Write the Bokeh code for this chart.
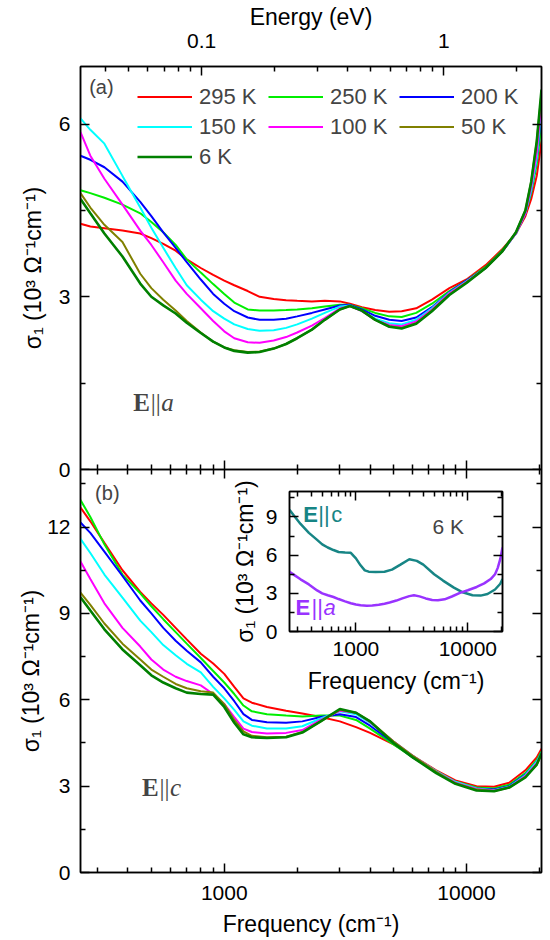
from bokeh.plotting import figure
from bokeh.models import (Range1d, LogScale, LogAxis, LinearAxis, FixedTicker,
                          Legend, LegendItem, Label)
from bokeh.layouts import column
from bokeh.embed import file_html
from bokeh.resources import INLINE

SANS = "Liberation Sans"
SERIF = "Liberation Serif"

# ---------------- data ----------------
temps = ["295 K", "250 K", "200 K", "150 K", "100 K", "50 K", "6 K"]
colors = ["#ff0000", "#00ee00", "#0000ff", "#00ffff", "#ff00ff", "#808000", "#008000"]

freq_a = [255, 280, 320, 380, 450, 500, 560, 630, 700, 800, 900, 1000, 1100, 1250, 1400,
          1600, 1800, 2000, 2300, 2600, 3000, 3300, 3700, 4200, 4800, 5400, 6200, 7200,
          8500, 10000, 12000, 14000, 16000, 17500, 18500, 19500, 20400]
a_295K = [4.27, 4.22, 4.19, 4.15, 4.10, 4.02, 3.92, 3.80, 3.65, 3.50, 3.38, 3.28, 3.20, 3.10, 3.00,
          2.96, 2.94, 2.93, 2.92, 2.93, 2.92, 2.88, 2.82, 2.77, 2.74, 2.75, 2.80, 2.95,
          3.15, 3.30, 3.55, 3.82, 4.10, 4.40, 4.70, 5.10, 5.70]
a_250K = [4.85, 4.80, 4.72, 4.60, 4.45, 4.30, 4.12, 3.90, 3.65, 3.42, 3.22, 3.05, 2.90, 2.78, 2.76,
          2.76, 2.77, 2.78, 2.80, 2.83, 2.86, 2.86, 2.80, 2.72, 2.66, 2.65, 2.72, 2.88,
          3.10, 3.28, 3.52, 3.80, 4.10, 4.45, 4.80, 5.30, 6.00]
a_200K = [5.45, 5.38, 5.25, 5.00, 4.65, 4.40, 4.12, 3.85, 3.60, 3.30, 3.05, 2.88, 2.75, 2.64, 2.60,
          2.60, 2.62, 2.66, 2.72, 2.78, 2.85, 2.86, 2.78, 2.67, 2.60, 2.58, 2.64, 2.82,
          3.08, 3.28, 3.50, 3.78, 4.10, 4.45, 4.85, 5.40, 6.20]
a_150K = [6.10, 5.90, 5.66, 5.10, 4.55, 4.20, 3.85, 3.50, 3.20, 2.95, 2.75, 2.62, 2.52, 2.44, 2.41,
          2.42, 2.46, 2.52, 2.62, 2.72, 2.83, 2.85, 2.75, 2.62, 2.54, 2.52, 2.60, 2.80,
          3.07, 3.27, 3.50, 3.78, 4.10, 4.45, 4.85, 5.40, 6.30]
a_100K = [5.86, 5.45, 5.05, 4.60, 4.15, 3.90, 3.60, 3.28, 3.05, 2.80, 2.58, 2.40, 2.28, 2.21, 2.20,
          2.24, 2.30, 2.38, 2.50, 2.63, 2.80, 2.84, 2.75, 2.60, 2.51, 2.49, 2.57, 2.78,
          3.06, 3.26, 3.50, 3.78, 4.10, 4.45, 4.90, 5.50, 6.40]
a_50K = [4.80, 4.55, 4.25, 3.95, 3.40, 3.15, 2.95, 2.76, 2.58, 2.38, 2.22, 2.12, 2.07, 2.04, 2.05,
         2.10, 2.18, 2.28, 2.43, 2.60, 2.78, 2.84, 2.76, 2.60, 2.49, 2.46, 2.54, 2.76,
         3.04, 3.25, 3.50, 3.78, 4.12, 4.50, 5.00, 5.70, 6.55]
a_6K = [4.70, 4.45, 4.10, 3.70, 3.23, 3.00, 2.85, 2.71, 2.55, 2.37, 2.22, 2.12, 2.06, 2.03, 2.04,
        2.10, 2.18, 2.28, 2.43, 2.60, 2.78, 2.84, 2.76, 2.60, 2.48, 2.45, 2.53, 2.75,
        3.03, 3.24, 3.50, 3.78, 4.12, 4.50, 5.00, 5.70, 6.60]

freq_b = [255, 280, 320, 380, 450, 500, 560, 630, 700, 800, 900, 1000, 1100, 1200, 1300, 1500,
          1800, 2100, 2500, 3000, 3500, 4000, 5000, 6000, 7500, 9000, 11000, 13000, 15000,
          17500, 19500, 20400]
b_295K = [12.68, 12.20, 11.45, 10.50, 9.75, 9.35, 8.95, 8.50, 8.10, 7.60, 7.26, 6.90, 6.45, 6.05, 5.90, 5.75,
          5.62, 5.52, 5.40, 5.25, 5.05, 4.85, 4.45, 4.05, 3.55, 3.20, 3.00, 2.98, 3.12,
          3.55, 4.00, 4.30]
b_250K = [12.94, 12.35, 11.40, 10.35, 9.70, 9.25, 8.80, 8.35, 7.95, 7.45, 7.00, 6.60, 6.20, 5.80, 5.60, 5.50,
          5.45, 5.42, 5.45, 5.45, 5.30, 5.00, 4.45, 4.00, 3.50, 3.15, 2.95, 2.92, 3.05,
          3.45, 3.90, 4.20]
b_200K = [12.16, 11.80, 11.15, 10.30, 9.45, 9.00, 8.50, 8.05, 7.70, 7.30, 6.80, 6.40, 5.95, 5.50, 5.30, 5.22,
          5.20, 5.25, 5.40, 5.50, 5.40, 5.10, 4.50, 4.00, 3.50, 3.13, 2.92, 2.88, 3.00,
          3.40, 3.85, 4.15]
b_150K = [11.59, 11.10, 10.35, 9.55, 8.75, 8.35, 7.90, 7.55, 7.25, 6.95, 6.45, 6.05, 5.65, 5.25, 5.10, 5.00,
          5.00, 5.08, 5.35, 5.60, 5.50, 5.20, 4.55, 4.05, 3.52, 3.15, 2.92, 2.86, 2.98,
          3.38, 3.85, 4.15]
b_100K = [10.80, 10.20, 9.35, 8.50, 7.85, 7.40, 7.05, 6.80, 6.65, 6.50, 6.20, 5.85, 5.40, 5.00, 4.88, 4.83,
          4.85, 4.95, 5.30, 5.62, 5.55, 5.22, 4.55, 4.05, 3.50, 3.12, 2.90, 2.85, 2.96,
          3.35, 3.80, 4.12]
b_50K = [9.72, 9.30, 8.65, 7.95, 7.40, 7.05, 6.80, 6.55, 6.40, 6.30, 6.25, 5.85, 5.30, 4.90, 4.75, 4.70,
         4.72, 4.88, 5.25, 5.65, 5.55, 5.25, 4.55, 4.05, 3.50, 3.10, 2.88, 2.83, 2.95,
         3.32, 3.75, 4.10]
b_6K = [9.56, 9.10, 8.45, 7.75, 7.20, 6.85, 6.60, 6.40, 6.25, 6.20, 6.18, 5.75, 5.20, 4.80, 4.70, 4.67,
        4.70, 4.86, 5.25, 5.68, 5.55, 5.25, 4.50, 4.00, 3.45, 3.08, 2.85, 2.82, 2.95,
        3.30, 3.75, 4.13]

series_a = [a_295K, a_250K, a_200K, a_150K, a_100K, a_50K, a_6K]
series_b = [b_295K, b_250K, b_200K, b_150K, b_100K, b_50K, b_6K]

# ticks and ranges
x_lo, x_hi = 255, 20400
cm_per_eV = 8065.54
x_major = [1000, 10000]
x_minor = [300, 400, 500, 600, 700, 800, 900, 2000, 3000, 4000, 5000, 6000, 7000, 8000, 9000, 20000]
ev_major = [0.1, 1]
ev_minor = [0.04, 0.05, 0.06, 0.07, 0.08, 0.09, 0.2, 0.3, 0.4, 0.5, 0.6, 0.7, 0.8, 0.9, 2]
ya_major, ya_minor = [0, 3, 6], [1.5, 4.5]
yb_major, yb_minor = [0, 3, 6, 9, 12], [1.5, 4.5, 7.5, 10.5, 13.5]
yi_major, yi_minor = [0, 3, 6, 9], [1.5, 4.5, 7.5, 10.5]

Y_LABEL = "σ₁ (10³ Ω⁻¹cm⁻¹)"
X_LABEL = "Frequency (cm⁻¹)"


def add_axis(p, kind, place, ticks, minor, labels=True, title=None, std=10, tstd=5,
             overrides=None, **kw):
    ax = kind(ticker=FixedTicker(ticks=ticks, minor_ticks=minor), **kw)
    ax.major_tick_in = 9
    ax.major_tick_out = 0
    ax.minor_tick_in = 5
    ax.minor_tick_out = 0
    ax.axis_line_width = 1.5
    ax.major_tick_line_width = 1.5
    ax.minor_tick_line_width = 1.5
    ax.axis_line_color = "black"
    ax.major_tick_line_color = "black"
    ax.minor_tick_line_color = "black"
    ax.major_label_text_font = SANS
    ax.major_label_text_color = "black"
    if labels:
        ax.major_label_text_font_size = "21px"
        ax.major_label_standoff = std
        if overrides:
            ax.major_label_overrides = overrides
    else:
        ax.major_label_text_font_size = "1px"
        ax.major_label_text_alpha = 0
        ax.major_label_standoff = 0
    if title:
        ax.axis_label = title
        ax.axis_label_text_font = SANS
        ax.axis_label_text_font_size = "23px"
        ax.axis_label_text_font_style = "normal"
        ax.axis_label_text_color = "black"
        ax.axis_label_standoff = tstd
    p.add_layout(ax, place)
    return ax


def base_fig(width, height, y_hi, bl, br, bt, bb, **kw):
    p = figure(width=width, height=height, x_axis_type="log",
               x_range=Range1d(x_lo, x_hi), y_range=Range1d(0, y_hi),
               x_axis_location=None, y_axis_location=None,
               min_border_left=bl, min_border_right=br, min_border_top=bt, min_border_bottom=bb,
               output_backend="svg", toolbar_location=None, **kw)
    p.grid.visible = False
    p.outline_line_color = "black"
    p.outline_line_width = 1.5
    p.background_fill_color = "white"
    return p


xover = {1000: "1000", 10000: "10000"}

# ---------------- panel (a) ----------------
pa = base_fig(590, 481, 7, 120, 9, 66, 12)
pa.extra_x_ranges = {"eV": Range1d(x_lo / cm_per_eV, x_hi / cm_per_eV)}
pa.extra_x_scales = {"eV": LogScale()}
add_axis(pa, LinearAxis, "left", ya_major, ya_minor, title=Y_LABEL, std=10, tstd=10)
add_axis(pa, LinearAxis, "right", ya_major, ya_minor, labels=False)
add_axis(pa, LogAxis, "above", ev_major, ev_minor, title="Energy (eV)", std=19, tstd=1,
         overrides={0.1: "0.1", 1: "1"}, x_range_name="eV")
add_axis(pa, LogAxis, "below", x_major, x_minor, labels=False)

items = []
for name, col, ys in zip(temps, colors, series_a):
    r = pa.line(freq_a, ys, line_color=col, line_width=2.6 if name == "6 K" else 2)
    items.append(LegendItem(label=name, renderers=[r]))

legend = Legend(items=items, location=(57, 299), orientation="horizontal", ncols=3,
                glyph_width=55, glyph_height=27, label_height=27, label_width=66,
                label_standoff=7, spacing=3, padding=0, margin=0,
                border_line_color=None, background_fill_alpha=0,
                label_text_font=SANS, label_text_font_size="22px")
pa.add_layout(legend)

pa.add_layout(Label(x=277, y=6.64, text="(a)", text_font=SANS, text_font_size="20px",
                    text_baseline="middle"))
pa.add_layout(Label(x=421, y=1.16, text="E", text_font=SERIF, text_font_style="bold",
                    text_font_size="25px", text_baseline="middle"))
pa.add_layout(Label(x=421, y=1.16, x_offset=17.5, text="||", text_font=SERIF,
                    text_font_size="25px", text_baseline="middle"))
pa.add_layout(Label(x=421, y=1.16, x_offset=28, text="a", text_font=SERIF,
                    text_font_style="italic", text_font_size="25px", text_baseline="middle"))

# ---------------- panel (b) ----------------
pb = base_fig(590, 471, 14, 120, 9, 0, 68,
              styles={"position": "absolute", "left": "0px", "top": "469px"})
pb.border_fill_alpha = 0
add_axis(pb, LinearAxis, "left", yb_major, yb_minor, title=Y_LABEL, std=10, tstd=0)
add_axis(pb, LinearAxis, "right", yb_major, yb_minor, labels=False)
add_axis(pb, LogAxis, "above", x_major, x_minor, labels=False)
add_axis(pb, LogAxis, "below", x_major, x_minor, title=X_LABEL, std=13, tstd=8, overrides=xover)

for name, col, ys in zip(temps, colors, series_b):
    pb.line(freq_b, ys, line_color=col, line_width=2.6 if name == "6 K" else 2)

pb.add_layout(Label(x=293, y=13.2, text="(b)", text_font=SANS, text_font_size="20px",
                    text_baseline="middle"))
pb.add_layout(Label(x=458, y=2.95, text="E", text_font=SERIF, text_font_style="bold",
                    text_font_size="25px", text_baseline="middle"))
pb.add_layout(Label(x=458, y=2.95, x_offset=17.5, text="||", text_font=SERIF,
                    text_font_size="25px", text_baseline="middle"))
pb.add_layout(Label(x=458, y=2.95, x_offset=28, text="c", text_font=SERIF,
                    text_font_style="italic", text_font_size="25px", text_baseline="middle"))

# ---------------- inset (6 K) ----------------
teal, purple = "#178585", "#9933ff"
pi = base_fig(342, 220, 11, 120, 6, 14, 66,
              styles={"position": "absolute", "left": "209px", "top": "477px"})
pi.border_fill_alpha = 0
add_axis(pi, LinearAxis, "left", yi_major, yi_minor, title=Y_LABEL, std=12, tstd=5)
add_axis(pi, LinearAxis, "right", yi_major, yi_minor, labels=False)
add_axis(pi, LogAxis, "above", x_major, x_minor, labels=False)
add_axis(pi, LogAxis, "below", x_major, x_minor, title=X_LABEL, std=10, tstd=9, overrides=xover)
pi.line(freq_b, b_6K, line_color=teal, line_width=2.5)
pi.line(freq_a, a_6K, line_color=purple, line_width=2.5)

pi.add_layout(Label(x=4830, y=8.25, text="6 K", text_font=SANS, text_font_size="21px",
                    text_baseline="middle"))
pi.add_layout(Label(x=339, y=9.2, text="E", text_font=SANS, text_font_style="bold",
                    text_font_size="22px", text_baseline="middle", text_color=teal))
pi.add_layout(Label(x=339, y=9.2, x_offset=15, text="||", text_font=SANS,
                    text_font_size="22px", text_baseline="middle", text_color=teal))
pi.add_layout(Label(x=339, y=9.2, x_offset=28, text="c", text_font=SANS,
                    text_font_size="22px", text_baseline="middle", text_color=teal))
pi.add_layout(Label(x=288, y=1.9, text="E", text_font=SANS, text_font_style="bold",
                    text_font_size="22px", text_baseline="middle", text_color=purple))
pi.add_layout(Label(x=288, y=1.9, x_offset=16, text="||", text_font=SANS,
                    text_font_size="22px", text_baseline="middle", text_color=purple))
pi.add_layout(Label(x=288, y=1.9, x_offset=28, text="a", text_font=SANS,
                    text_font_style="italic", text_font_size="22px", text_baseline="middle",
                    text_color=purple))

layout = column(pa, pb, pi, spacing=0, styles={"margin-left": "-40px"})
open("out.html", "w").write(file_html(layout, INLINE))
